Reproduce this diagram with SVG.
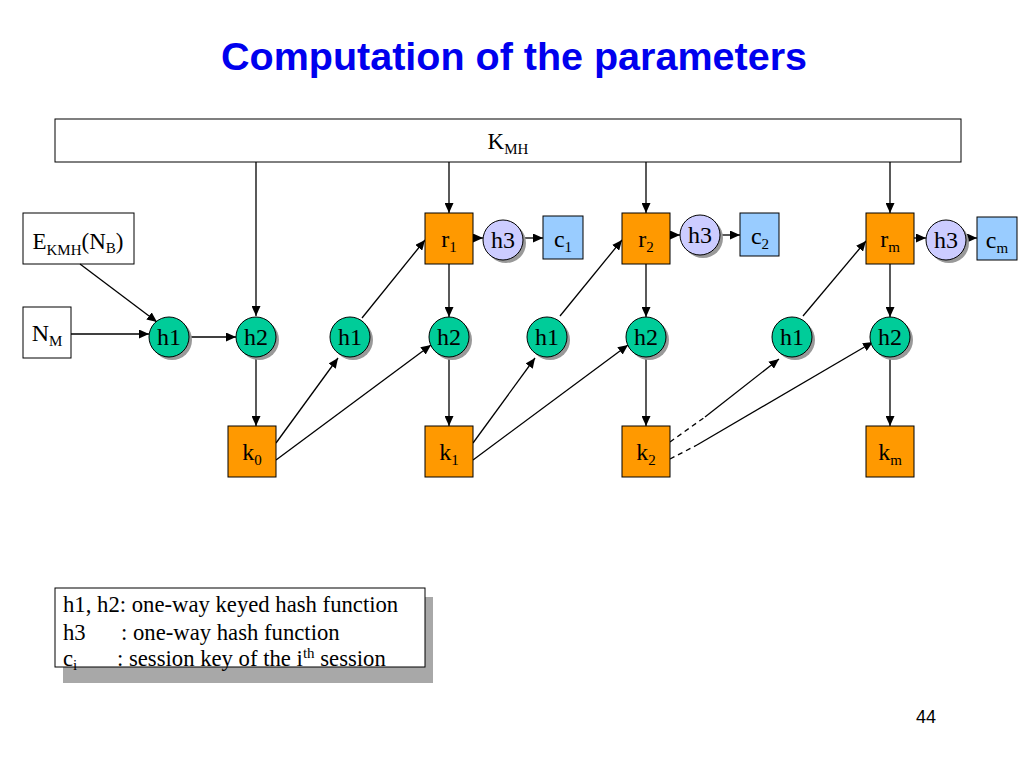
<svg xmlns="http://www.w3.org/2000/svg" width="1024" height="768" viewBox="0 0 1024 768">
<defs>
<marker id="arr" markerUnits="userSpaceOnUse" markerWidth="11" markerHeight="9" refX="10" refY="4.5" orient="auto">
<path d="M0,0 L10,4.5 L0,9 z" fill="#000"/>
</marker>
</defs>
<style>
.t{font-family:"Liberation Serif","Times New Roman",serif;font-size:23px;fill:#000}
.n{font-size:24px}
.g{font-size:22.7px}
.s{font-size:15px}
.hc{fill:#00CC99;stroke:#000;stroke-width:1}
.h3{fill:#CCCCFF;stroke:#000;stroke-width:1}
.sh{fill:#999999}
.or{fill:#FF9900;stroke:#000;stroke-width:1}
.bl{fill:#99CCFF;stroke:#000;stroke-width:1}
.wb{fill:#fff;stroke:#000;stroke-width:1}
.c line,.c path{stroke:#000;stroke-width:1.3;fill:none}
.a{marker-end:url(#arr)}
.d{stroke-dasharray:5,4}
</style>
<rect width="1024" height="768" fill="#fff"/>
<text x="514" y="70" text-anchor="middle" font-family="'Liberation Sans',Arial,sans-serif" font-weight="bold" font-size="39.5" fill="#0000EE">Computation of the parameters</text>

<g id="kmh"><rect class="wb" x="55" y="119" width="906" height="43" stroke="#555"/>
<text class="t" x="508" y="149" text-anchor="middle">K<tspan class="s" dy="5">MH</tspan></text></g>

<g id="ekmh"><rect class="wb" x="23" y="213" width="111" height="51"/>
<text class="t" x="78" y="249" text-anchor="middle">E<tspan class="s" dy="6">KMH</tspan><tspan dy="-6">(N</tspan><tspan class="s" dy="4">B</tspan><tspan dy="-4">)</tspan></text></g>

<g id="nm"><rect class="wb" x="23" y="307" width="48" height="51"/>
<text class="t n" x="47" y="341" text-anchor="middle">N<tspan class="s" dy="5">M</tspan></text></g>

<g id="connectors" class="c">
<line class="a" x1="256" y1="162" x2="256" y2="316"/>
<line class="a" x1="449" y1="162" x2="449" y2="213"/>
<line class="a" x1="646" y1="162" x2="646" y2="213"/>
<line class="a" x1="890" y1="162" x2="890" y2="213"/>
<line class="a" x1="80" y1="264" x2="157" y2="322"/>
<line class="a" x1="71" y1="334" x2="149" y2="334"/>
<line class="a" x1="189" y1="337" x2="236" y2="337"/>
<line class="a" x1="256" y1="357" x2="256" y2="426"/>
<line class="a" x1="276" y1="443" x2="338" y2="358"/>
<line class="a" x1="276" y1="460" x2="431" y2="345"/>
<line class="a" x1="362" y1="318" x2="425" y2="240"/>
<line class="a" x1="449" y1="264" x2="449" y2="317"/>
<line class="a" x1="473" y1="238" x2="483" y2="238"/>
<line class="a" x1="524" y1="238" x2="543" y2="238"/>
<line class="a" x1="449" y1="357" x2="449" y2="426"/>
<line class="a" x1="473" y1="443" x2="535" y2="358"/>
<line class="a" x1="473" y1="460" x2="628" y2="345"/>
<line class="a" x1="560" y1="316" x2="622" y2="240"/>
<line class="a" x1="646" y1="264" x2="646" y2="317"/>
<line class="a" x1="670" y1="235" x2="680" y2="235"/>
<line class="a" x1="720" y1="235" x2="740" y2="235"/>
<line class="a" x1="646" y1="357" x2="646" y2="426"/>
<line class="d" x1="670" y1="442" x2="705" y2="417"/>
<line class="a" x1="705" y1="417" x2="779" y2="359"/>
<line class="d" x1="670" y1="459" x2="697" y2="445"/>
<line class="a" x1="697" y1="445" x2="873" y2="342"/>
<line class="a" x1="803" y1="316" x2="866" y2="241"/>
<line class="a" x1="890" y1="264" x2="890" y2="317"/>
<line class="a" x1="914" y1="238" x2="926" y2="238"/>
<line class="a" x1="966" y1="238" x2="977" y2="238"/>
<line class="a" x1="890" y1="357" x2="890" y2="426"/>
</g>

<g id="h1a"><circle class="sh" cx="172" cy="340" r="20"/><circle class="hc" cx="169" cy="337" r="20"/><text class="t n" x="169" y="345" text-anchor="middle">h1</text></g>
<g id="h2a"><circle class="sh" cx="259" cy="340" r="20"/><circle class="hc" cx="256" cy="337" r="20"/><text class="t n" x="256" y="345" text-anchor="middle">h2</text></g>
<g id="h1b"><circle class="sh" cx="353" cy="340" r="20"/><circle class="hc" cx="350" cy="337" r="20"/><text class="t n" x="350" y="345" text-anchor="middle">h1</text></g>
<g id="h2b"><circle class="sh" cx="452" cy="340" r="20"/><circle class="hc" cx="449" cy="337" r="20"/><text class="t n" x="449" y="345" text-anchor="middle">h2</text></g>
<g id="h1c"><circle class="sh" cx="550" cy="340" r="20"/><circle class="hc" cx="547" cy="337" r="20"/><text class="t n" x="547" y="345" text-anchor="middle">h1</text></g>
<g id="h2c"><circle class="sh" cx="649" cy="340" r="20"/><circle class="hc" cx="646" cy="337" r="20"/><text class="t n" x="646" y="345" text-anchor="middle">h2</text></g>
<g id="h1m"><circle class="sh" cx="795" cy="340" r="20"/><circle class="hc" cx="792" cy="337" r="20"/><text class="t n" x="792" y="345" text-anchor="middle">h1</text></g>
<g id="h2m"><circle class="sh" cx="893" cy="340" r="20"/><circle class="hc" cx="890" cy="337" r="20"/><text class="t n" x="890" y="345" text-anchor="middle">h2</text></g>

<g id="r1"><rect class="or" x="425" y="213" width="48" height="51"/><text class="t n" x="449" y="247" text-anchor="middle">r<tspan class="s" dy="5">1</tspan></text></g>
<g id="r2"><rect class="or" x="622" y="213" width="48" height="51"/><text class="t n" x="646" y="247" text-anchor="middle">r<tspan class="s" dy="5">2</tspan></text></g>
<g id="rm"><rect class="or" x="866" y="213" width="48" height="51"/><text class="t n" x="890" y="247" text-anchor="middle">r<tspan class="s" dy="5">m</tspan></text></g>

<g id="h3a"><circle class="sh" cx="506" cy="243" r="20"/><circle class="h3" cx="503" cy="240" r="20"/><text class="t n" x="503" y="248" text-anchor="middle">h3</text></g>
<g id="h3b"><circle class="sh" cx="703" cy="238" r="20"/><circle class="h3" cx="700" cy="235" r="20"/><text class="t n" x="700" y="243" text-anchor="middle">h3</text></g>
<g id="h3m"><circle class="sh" cx="949" cy="243" r="20"/><circle class="h3" cx="946" cy="240" r="20"/><text class="t n" x="946" y="248" text-anchor="middle">h3</text></g>

<g id="c1"><rect class="bl" x="543" y="216" width="40" height="43"/><text class="t n" x="563" y="247" text-anchor="middle">c<tspan class="s" dy="5">1</tspan></text></g>
<g id="c2"><rect class="bl" x="740" y="213" width="39" height="43"/><text class="t n" x="760" y="244" text-anchor="middle">c<tspan class="s" dy="5">2</tspan></text></g>
<g id="cm"><rect class="bl" x="977" y="217" width="40" height="43"/><text class="t n" x="997" y="248" text-anchor="middle">c<tspan class="s" dy="5">m</tspan></text></g>

<g id="k0"><rect class="or" x="228" y="426" width="48" height="51"/><text class="t n" x="252" y="460" text-anchor="middle">k<tspan class="s" dy="5">0</tspan></text></g>
<g id="k1"><rect class="or" x="425" y="426" width="48" height="51"/><text class="t n" x="449" y="460" text-anchor="middle">k<tspan class="s" dy="5">1</tspan></text></g>
<g id="k2"><rect class="or" x="622" y="426" width="48" height="51"/><text class="t n" x="646" y="460" text-anchor="middle">k<tspan class="s" dy="5">2</tspan></text></g>
<g id="km"><rect class="or" x="866" y="426" width="48" height="51"/><text class="t n" x="890" y="460" text-anchor="middle">k<tspan class="s" dy="5">m</tspan></text></g>

<g id="legend">
<rect x="63" y="597" width="370" height="86" fill="#a8a8a8"/>
<rect class="wb" x="55" y="588" width="370" height="79"/>
<text class="t g" x="63" y="612">h1, h2: one-way keyed hash function</text>
<text class="t g" x="63" y="640">h3</text>
<text class="t g" x="121" y="640">: one-way hash function</text>
<text class="t g" x="63" y="666">c<tspan class="s" dy="4">i</tspan></text>
<text class="t g" x="117" y="666">: session key of the i<tspan class="s" dy="-8">th</tspan><tspan dy="8"> session</tspan></text>
</g>

<text x="926" y="723" text-anchor="middle" font-family="'Liberation Sans',Arial,sans-serif" font-size="18" fill="#000">44</text>
</svg>
